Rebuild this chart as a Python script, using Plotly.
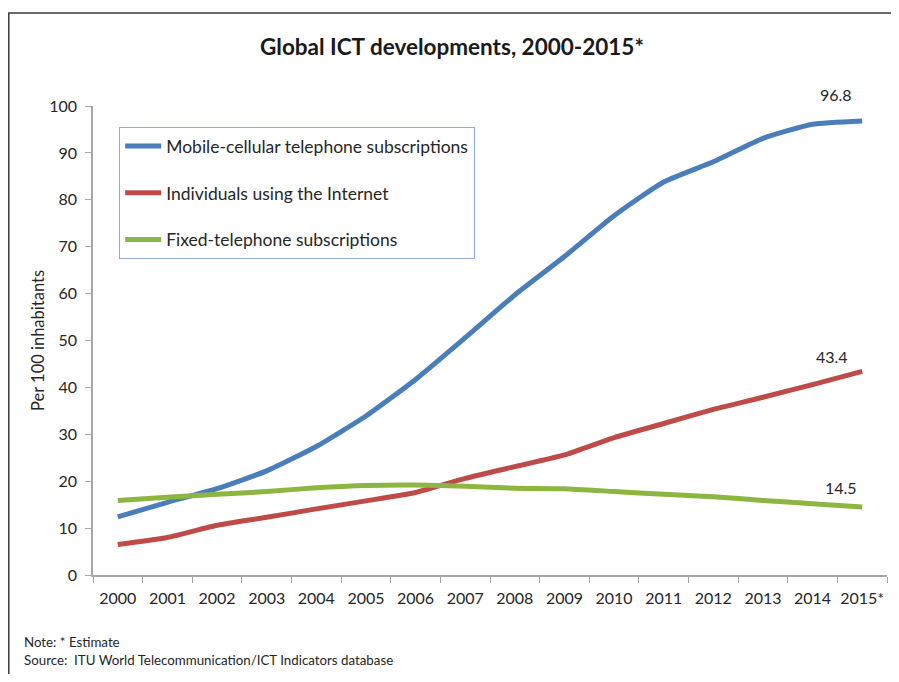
import plotly.graph_objects as go

years = ["2000", "2001", "2002", "2003", "2004", "2005", "2006", "2007",
         "2008", "2009", "2010", "2011", "2012", "2013", "2014", "2015*"]
mobile = [12.4, 15.5, 18.4, 22.2, 27.4, 33.9, 41.7, 50.6, 59.7, 67.9, 76.6, 83.8, 88.1, 93.1, 96.1, 96.8]
internet = [6.5, 8.0, 10.6, 12.3, 14.1, 15.8, 17.6, 20.6, 23.1, 25.6, 29.3, 32.3, 35.3, 37.9, 40.6, 43.4]
fixed = [15.9, 16.6, 17.2, 17.8, 18.6, 19.1, 19.2, 18.9, 18.5, 18.4, 17.8, 17.2, 16.7, 15.9, 15.2, 14.5]

names = ["Mobile-cellular telephone subscriptions", "Individuals using the Internet",
         "Fixed-telephone subscriptions"]
colors = ["#4A7EBB", "#BE4B48", "#8DB541"]
series = [mobile, internet, fixed]

FONT = "Lato"
TXT = "#262626"

# page body has an 8px margin, so the figure is drawn at offset (8, 8)
W, H = 883, 666
L, R, T, B = 85, 4, 98, 99
PW, PH = W - L - R, H - T - B

def px(xp):
    return (xp - L) / PW

def py(yp):
    return (H - B - yp) / PH

fig = go.Figure()
for i, (nm, col, vals) in enumerate(zip(names, colors, series)):
    fig.add_trace(go.Scatter(
        x=years, y=vals, name=nm, mode="lines",
        line=dict(color=col, width=5, shape="spline", smoothing=0.5),
        legendgroup=f"g{i}",
        hoverinfo="x+y+name",
    ))

# end-of-series data labels
label_offsets = [(-26, 27), (-30, 15), (-21, 20)]
for vals, (dx, dy) in zip(series, label_offsets):
    fig.add_annotation(x=years[-1], y=vals[-1], text=f"{vals[-1]:.1f}",
                       showarrow=False, xshift=dx, yshift=dy,
                       font=dict(family=FONT, size=16, color=TXT))

# note / source
fig.add_annotation(xref="paper", yref="paper", x=px(14), y=py(634), xanchor="left", yanchor="middle",
                   text="Note: * Estimate", showarrow=False,
                   font=dict(family=FONT, size=13.3, color=TXT))
fig.add_annotation(xref="paper", yref="paper", x=px(14), y=py(652), xanchor="left", yanchor="middle",
                   text="Source:  ITU World Telecommunication/ICT Indicators database", showarrow=False,
                   font=dict(family=FONT, size=13.3, color=TXT))

# outer frame (right and bottom edges fall outside the page)
fig.add_shape(type="rect", xref="paper", yref="paper",
              x0=px(0.8), x1=px(W + 40), y0=py(H + 40), y1=py(5),
              line=dict(color="#3a3a3a", width=1.5), fillcolor="rgba(0,0,0,0)", layer="below")

fig.update_layout(
    width=W, height=H,
    margin=dict(l=L, r=R, t=T, b=B),
    paper_bgcolor="white", plot_bgcolor="white",
    title=dict(text="<b>Global ICT developments, 2000-2015*</b>", x=444 / W, xanchor="center",
               y=1 - 39 / H, yanchor="middle",
               font=dict(family=FONT, size=22.5, color="#1a1a1a")),
    showlegend=True,
    legend=dict(x=px(111), y=py(119), xanchor="left", yanchor="top",
                bordercolor="#8EAADB", borderwidth=1.2, bgcolor="white",
                font=dict(family=FONT, size=17.5, color=TXT),
                tracegroupgap=21, traceorder="grouped", itemwidth=36),
    xaxis=dict(type="category", range=[-0.5, 15.5], showgrid=False,
               showline=True, linecolor="#A6A6A6", linewidth=1.5,
               ticks="outside", tickson="boundaries", ticklen=6, tickcolor="#A6A6A6",
               tickangle=0, automargin=False, ticklabelstandoff=8,
               tickfont=dict(family=FONT, size=16, color=TXT), fixedrange=True),
    yaxis=dict(range=[0, 100], dtick=10, showgrid=False, zeroline=False,
               showline=True, linecolor="#A6A6A6", linewidth=1.5,
               ticks="outside", ticklen=6, tickcolor="#A6A6A6", automargin=False,
               ticklabelstandoff=5,
               tickfont=dict(family=FONT, size=16, color=TXT),
               title=dict(text="Per 100 inhabitants", standoff=0,
                          font=dict(family=FONT, size=16.5, color=TXT))),
)

fig.write_html("out.html")
